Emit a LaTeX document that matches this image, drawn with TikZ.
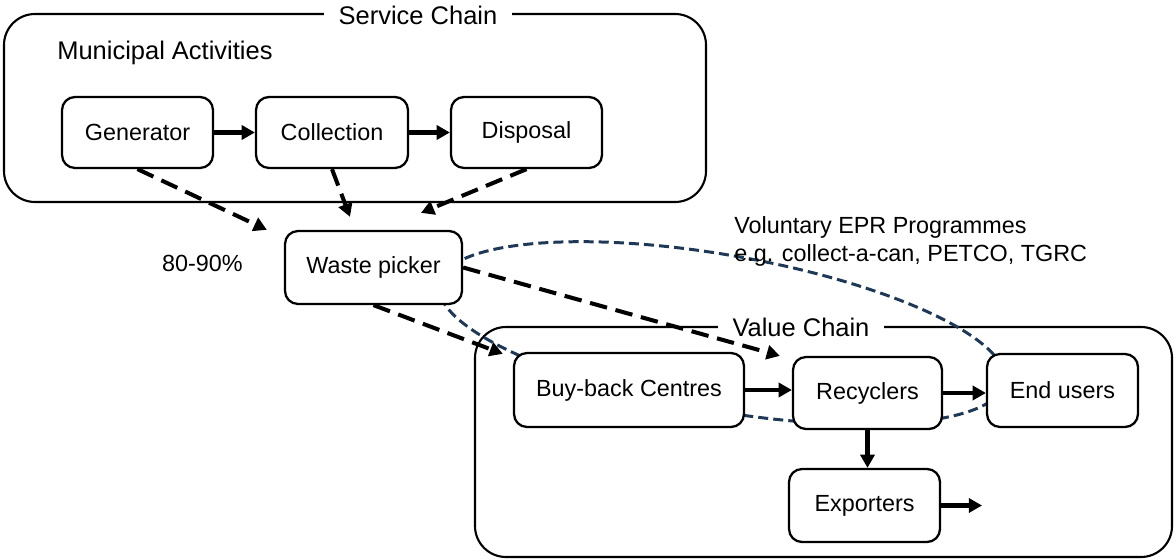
\documentclass[tikz,border=0pt]{standalone}
\usepackage{fontspec}
\setmainfont{Liberation Sans}
\usetikzlibrary{arrows.meta, positioning}
\definecolor{eprblue}{RGB}{31,56,86}
\tikzset{%
	every stage/.style={
		draw,
		fill=white,
		rounded corners=0.26cm,
		line width=1.3pt,
		minimum height=1.44cm
	},
	chain title/.style={
		fill=white,
		inner xsep=0.3cm,
		inner ysep=1pt,
		font=\fontsize{14.5}{17}\selectfont
	},
	flow/.style={
		-{Triangle[length=7.5pt,width=8pt]},
		line width=2.3pt
	},
	side flow/.style={
		flow,
		dash pattern=on 10pt off 5pt
	},
	epr ring/.style={
		draw=eprblue,
		line width=1.7pt,
		dash pattern=on 5.7pt off 2.9pt
	},
}

\begin{document}
\begin{tikzpicture}[x=0.02cm, y=-0.02cm, font=\fontsize{13.3}{16}\selectfont]
			\useasboundingbox (0,0) rectangle (1176,560);
			
			% Draw the two chains
			\draw[line width=1.2pt, rounded corners=0.62cm] (4,14) rectangle (706,202);
			\node[chain title] (servicetitle) at (418,15) {Service Chain};
			\node[anchor=base west, inner sep=0, font=\fontsize{14.5}{17}\selectfont] (municipal) at (57,60) {Municipal Activities};
			
			\draw[line width=1.2pt, rounded corners=0.62cm] (475,327) rectangle (1172,557);
			\node[chain title] (valuetitle) at (801,327) {Value Chain};
			
			% Draw the EPR ring
			\draw[epr ring, rotate around={-9.9:(722,333)}] (722,333) ellipse [x radius=5.74cm, y radius=1.56cm];
			\node[anchor=base west, inner sep=0] (epr) at (734,234) {Voluntary EPR Programmes};
			\node[anchor=base west, inner sep=0] (eprnote) at (734,262) {e.g. collect-a-can, PETCO, TGRC};
			
			% Draw the stages
			\node[every stage, minimum width=3.02cm, minimum height=1.42cm] (gen) at (137.5,132.5) {Generator};
			\node[every stage, minimum width=3.04cm, minimum height=1.42cm] (coll) at (332,132.5) {Collection};
			\node[every stage, minimum width=3.02cm, minimum height=1.42cm] (disp) at (526.5,132.5) {Disposal};
			
			\node[every stage, minimum width=3.54cm, minimum height=1.46cm] (waste) at (373.5,267.5) {Waste picker};
			\node (share) at (202.5,263) {80-90\%};
			
			\node[every stage, minimum width=4.6cm, minimum height=1.48cm] (buy) at (629,390) {Buy-back Centres};
			\node[every stage, minimum width=2.98cm] (rec) at (867.5,393) {Recyclers};
			\node[every stage, minimum width=3.02cm, minimum height=1.46cm] (endu) at (1062.5,390.5) {End users};
			\node[every stage, minimum width=3.02cm, minimum height=1.46cm] (exp) at (864.5,505.5) {Exporters};
			\coordinate (export) at (982,505.5);
			
			% Draw the arrows
			\draw[flow] (gen.east) -- (coll.west);
			\draw[flow] (coll.east) -- (disp.west);
			\draw[flow] (buy.east) -- (buy.east -| rec.west);
			\draw[flow] (rec.east) -- (rec.east -| endu.west);
			\draw[flow] (rec.south) -- (rec.south |- exp.north);
			\draw[flow] (exp.east) -- (export);
			
			\draw[side flow] (gen.south) -- ([xshift=-0.34cm]waste.north west);
			\draw[side flow] (coll.south) -- ([xshift=-0.47cm, yshift=0.26cm]waste.north);
			\draw[side flow] (disp.south) -- ([xshift=0.95cm, yshift=0.34cm]waste.north);
			\draw[side flow] (waste.south) -- ([xshift=-0.2cm, yshift=-0.04cm]buy.north west);
			\draw[side flow] (waste.east) -- ([xshift=-0.24cm]rec.north west);
			
		\end{tikzpicture}
\end{document}
